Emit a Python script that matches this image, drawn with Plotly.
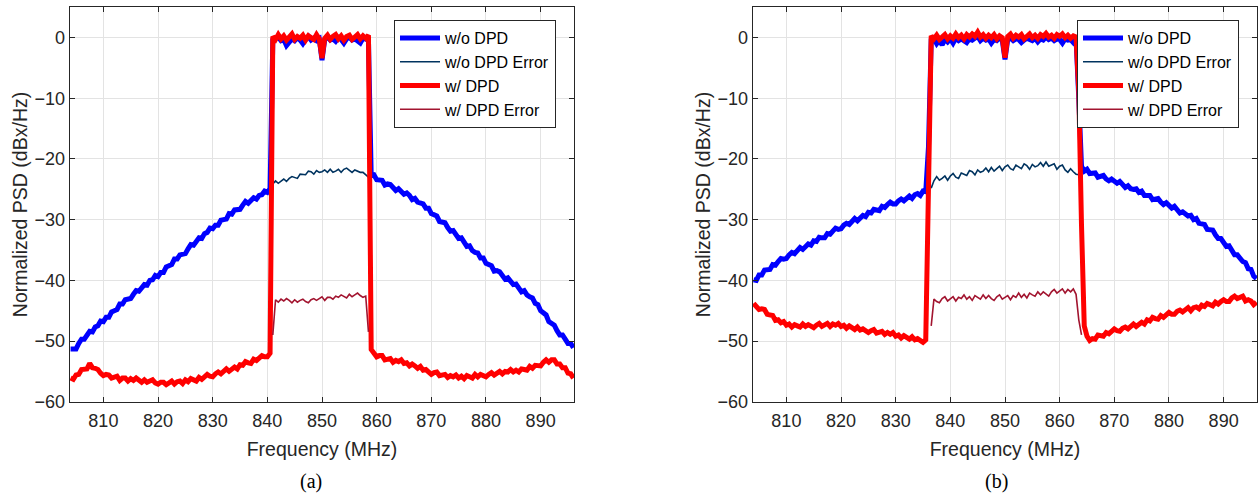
import plotly.graph_objects as go

# ---------------- data ----------------
STEP = 0.5  # MHz spacing of the PSD samples
F_START = 804.0

# ---- panel (a) ----
A_BLUE_LEFT = [-51.3, -51.4, -51.3, -50.4, -49.7, -49.7, -49.0, -48.4, -48.5, -47.7,
               -47.5, -46.7, -46.8, -46.1, -46.1, -45.2, -45.0, -44.8, -43.9, -43.9,
               -43.2, -43.2, -43.0, -42.3, -41.7, -41.8, -41.2, -40.7, -40.8, -40.0,
               -39.9, -39.2, -39.4, -38.7, -38.7, -37.8, -37.6, -37.4, -36.5, -36.5,
               -35.8, -35.8, -35.6, -34.8, -34.1, -34.2, -33.6, -33.0, -33.1, -32.3,
               -32.1, -31.4, -31.5, -30.9, -30.9, -30.1, -30.0, -29.9, -29.0, -29.1,
               -28.4, -28.4, -28.3, -27.6, -27.0, -27.3, -26.8, -26.4, -26.6, -26.0,
               -25.9, -25.3, -25.5, -24.9]
A_BLUE_BAND = [-0.4, -0.2, 0.1, -0.5, -0.3, -1.3, -0.6, -0.2, -0.5, 0.0,
               -0.4, -1.0, -0.3, 0.2, -0.4, -0.1, -0.5, -0.2, -3.7, -0.3,
               0.1, -0.4, -0.2, -0.6, 0.0, -0.3, -0.9, -0.2, 0.1, -0.4,
               -0.2, -0.5, -0.9, -0.1, -0.3, -0.4]
A_BLUE_RIGHT = [-22.7, -22.6, -23.4, -23.5, -23.5, -24.3, -24.1, -24.2, -24.8, -25.2,
                -24.9, -25.4, -25.8, -25.6, -26.0, -26.7, -26.5, -27.1, -27.3, -27.4,
                -28.1, -28.1, -29.0, -29.2, -29.4, -30.3, -30.3, -30.5, -31.3, -31.9,
                -31.8, -32.5, -33.1, -33.0, -33.6, -34.4, -34.3, -35.1, -35.4, -35.5,
                -36.3, -36.3, -37.2, -37.4, -37.6, -38.5, -38.4, -38.6, -39.3, -39.8,
                -39.6, -40.2, -40.7, -40.6, -41.1, -41.9, -41.7, -42.4, -42.7, -42.9,
                -43.8, -44.0, -45.0, -45.4, -45.7, -46.8, -47.0, -47.4, -48.3, -49.0,
                -49.0, -49.7, -50.4, -50.4, -51.1]

A_RED_LEFT = [-56.1, -56.3, -55.6, -55.5, -54.7, -54.7, -54.6, -53.7, -54.4, -54.5,
              -54.7, -55.3, -55.7, -55.5, -55.6, -56.1, -56.0, -55.8, -56.5, -56.1,
              -56.1, -56.6, -56.2, -56.5, -56.1, -56.5, -56.8, -56.4, -56.8, -56.6,
              -56.4, -56.9, -57.1, -56.8, -56.8, -57.2, -56.9, -56.6, -57.1, -56.7,
              -56.6, -57.0, -56.4, -56.7, -56.2, -56.4, -56.6, -56.0, -56.3, -55.9,
              -55.5, -55.8, -55.9, -55.4, -55.1, -55.4, -55.0, -54.6, -55.0, -54.5,
              -54.3, -54.6, -53.9, -54.0, -53.4, -53.6, -53.7, -53.0, -53.2, -52.8,
              -52.4, -52.6, -52.6, -52.0]
A_RED_BAND = [0.2, -0.3, 0.5, -0.2, 0.3, -0.4, 0.1, 0.6, -0.3, 0.2,
              -0.1, 0.4, -0.4, 0.3, 0.0, -0.3, 0.5, -0.2, -3.4, -0.1,
              0.4, -0.3, 0.2, 0.5, -0.2, 0.3, -0.4, 0.2, 0.4, -0.3,
              0.1, 0.5, -0.2, 0.3, -0.1, 0.4]
A_RED_RIGHT = [-51.4, -52.2, -52.6, -52.4, -52.4, -53.1, -53.0, -52.9, -53.5, -53.2,
               -53.4, -53.1, -53.7, -53.6, -54.1, -53.8, -54.1, -54.5, -54.2, -54.8,
               -54.7, -55.2, -55.5, -55.2, -55.1, -55.7, -55.6, -55.5, -56.0, -55.7,
               -55.9, -55.6, -56.1, -55.8, -56.2, -55.7, -55.9, -56.1, -55.5, -55.9,
               -55.5, -55.8, -55.9, -55.5, -55.2, -55.6, -55.3, -55.0, -55.4, -55.0,
               -55.1, -54.7, -55.1, -54.8, -55.1, -54.6, -54.7, -54.8, -54.2, -54.5,
               -54.0, -54.1, -54.1, -53.5, -53.1, -53.5, -53.1, -53.1, -53.8, -53.8,
               -54.4, -54.4, -55.3, -55.4, -56.1]

A_ERR_START = 841.0
A_NAVY_ERR = [-24.1, -23.6, -24.0, -23.7, -23.3, -23.7, -23.2, -22.9, -23.1, -23.2,
              -22.5, -22.6, -22.6, -22.0, -22.1, -22.5, -21.9, -22.2, -22.1, -21.8,
              -22.2, -21.7, -22.2, -22.0, -21.7, -22.2, -21.7, -21.5, -21.9, -22.2,
              -21.8, -22.0, -22.2, -22.2, -22.6, -23.0]
A_MAROON_ERR = [-49.0, -43.2, -43.6, -43.1, -43.4, -43.0, -43.3, -43.7, -43.2, -43.6,
                -43.3, -43.1, -43.5, -43.7, -43.2, -43.0, -43.3, -43.0, -42.7, -43.3,
                -42.8, -42.8, -43.1, -42.6, -42.8, -42.4, -42.6, -42.9, -42.3, -42.7,
                -42.4, -42.1, -42.5, -42.8, -42.6, -48.5]

# ---- panel (b) ----
B_BLUE_LEFT = [-39.9, -40.0, -39.1, -39.1, -38.3, -38.3, -38.2, -37.4, -37.5, -36.9,
               -36.4, -36.5, -36.4, -35.8, -35.4, -35.6, -35.1, -34.6, -34.9, -34.3,
               -34.0, -34.2, -33.5, -33.6, -32.9, -33.0, -33.0, -32.3, -32.4, -31.9,
               -31.4, -31.6, -31.5, -30.9, -30.6, -30.8, -30.3, -29.8, -30.2, -29.6,
               -29.3, -29.5, -28.8, -28.9, -28.3, -28.4, -28.5, -27.8, -28.0, -27.5,
               -27.1, -27.4, -27.4, -26.9, -26.6, -26.9, -26.5, -26.1, -26.5, -25.9,
               -25.7, -26.0, -25.3, -25.4, -18.0]
B_BLUE_BAND = [-0.4, -0.2, -1.0, -0.4, -1.2, -0.3, -0.7, -0.2, -0.9, -0.1,
               -0.5, -0.2, -0.4, -0.8, -0.2, -0.4, -0.1, 0.2, -0.5, -0.1,
               -0.4, -0.2, -0.9, -0.3, -0.5, -0.1, -0.4, -3.6, -0.3, -0.1,
               -0.5, -0.2, -0.3, -0.8, -0.4, -0.1, -0.3, -0.5, -0.1, -0.7,
               -0.2, -0.4, 0.1, -0.3, -0.1, -0.5, -0.2, -0.3, -0.9, -0.2,
               -0.4, -0.3, -0.8, -0.2]
B_BLUE_RIGHT = [-10.0, -21.2, -22.0, -21.7, -22.4, -22.3, -22.3, -23.0, -22.8, -22.7,
                -23.3, -23.6, -23.3, -23.6, -24.0, -23.7, -24.1, -24.7, -24.4, -24.9,
                -25.0, -24.9, -25.5, -25.3, -26.0, -26.0, -26.0, -26.7, -26.5, -26.5,
                -27.1, -27.5, -27.2, -27.6, -28.1, -27.8, -28.3, -28.9, -28.7, -29.2,
                -29.4, -29.3, -30.0, -29.8, -30.6, -30.7, -30.8, -31.6, -31.6, -31.7,
                -32.5, -33.1, -33.1, -33.7, -34.4, -34.3, -35.0, -35.8, -35.8, -36.5,
                -36.9, -37.1, -38.1, -38.2, -39.3, -39.7]

B_RED_LEFT = [-43.8, -44.4, -44.8, -44.7, -44.8, -45.6, -45.7, -45.8, -46.6, -46.5,
              -47.0, -46.8, -47.4, -47.2, -47.7, -47.3, -47.5, -47.7, -47.2, -47.6,
              -47.3, -47.6, -47.8, -47.4, -47.1, -47.6, -47.3, -47.1, -47.6, -47.2,
              -47.4, -47.1, -47.6, -47.4, -47.9, -47.5, -47.8, -48.1, -47.7, -48.2,
              -48.0, -48.4, -48.6, -48.3, -48.1, -48.7, -48.5, -48.4, -48.9, -48.6,
              -48.9, -48.6, -49.2, -49.0, -49.5, -49.1, -49.4, -49.7, -49.3, -49.8,
              -49.6, -50.0, -50.2, -49.8, -24.0]
B_RED_BAND = [0.3, -0.2, 0.4, -0.3, 0.2, 0.5, -0.2, 0.3, -0.1, 0.6,
              0.0, 0.4, -0.2, 0.5, 0.1, 0.6, 0.2, 0.9, 0.1, 0.5,
              -0.1, 0.4, 0.0, 0.5, -0.2, 0.3, 0.0, -3.3, 0.2, 0.6,
              -0.1, 0.4, 0.1, 0.5, -0.2, 0.3, 0.6, 0.0, 0.4, -0.1,
              0.5, 0.2, 0.7, 0.1, 0.4, -0.1, 0.5, 0.2, 0.6, 0.0,
              0.4, -0.1, 0.3, 0.1]
B_RED_RIGHT = [-9.0, -31.0, -47.5, -49.2, -49.9, -49.6, -49.7, -49.0, -49.1, -49.2,
               -48.6, -48.8, -48.4, -48.0, -48.3, -48.4, -47.9, -47.7, -48.0, -47.6,
               -47.2, -47.6, -47.1, -46.9, -47.2, -46.5, -46.7, -46.1, -46.3, -46.4,
               -45.8, -46.1, -45.7, -45.3, -45.6, -45.6, -45.1, -44.9, -45.2, -44.9,
               -44.5, -45.0, -44.5, -44.4, -44.7, -44.1, -44.3, -43.8, -44.0, -44.2,
               -43.6, -43.9, -43.5, -43.2, -43.5, -43.5, -42.9, -42.6, -43.0, -42.7,
               -42.6, -43.4, -43.2, -43.4, -44.0, -43.6]

B_ERR_START = 836.5
B_NAVY_ERR = [-24.8, -23.6, -22.9, -23.5, -23.2, -22.8, -23.5, -22.8, -22.4, -23.0,
              -23.2, -22.3, -22.5, -22.7, -21.9, -22.1, -22.6, -21.8, -22.2, -22.0,
              -21.5, -22.1, -21.4, -22.0, -21.6, -21.2, -21.9, -21.3, -21.0, -21.6,
              -21.8, -21.0, -21.3, -21.6, -20.8, -21.1, -21.7, -20.9, -21.3, -21.1,
              -20.6, -21.2, -20.5, -21.2, -21.0, -20.8, -21.7, -21.2, -21.0, -21.8,
              -22.2, -21.6, -22.1, -22.5, -22.6]
B_MAROON_ERR = [-47.5, -43.1, -43.5, -43.7, -43.0, -42.7, -43.4, -43.0, -42.7, -43.4,
                -42.8, -43.0, -42.4, -43.1, -42.7, -43.3, -42.5, -42.8, -43.1, -42.4,
                -43.0, -42.5, -43.0, -43.3, -42.7, -42.4, -43.1, -42.8, -42.5, -43.2,
                -42.5, -42.8, -42.1, -42.8, -42.3, -42.9, -42.1, -42.4, -42.6, -41.9,
                -42.4, -41.9, -42.3, -42.6, -41.9, -41.5, -42.1, -41.8, -41.4, -42.1,
                -41.5, -41.9, -41.4, -42.3, -46.5, -49.0]

X_TICKS = [810, 820, 830, 840, 850, 860, 870, 880, 890]
Y_TICKS = [-60, -50, -40, -30, -20, -10, 0]
X_RANGE = [803.84, 896.16]
Y_RANGE = [-60, 5]
NAMES = ["w/o DPD", "w/o DPD Error", "w/ DPD", "w/ DPD Error"]
CAPTIONS = ["(a)", "(b)"]


def grid(start, n):
    return [start + STEP * i for i in range(n)]


# ---------------- styles ----------------
BLUE = "#0000ff"
NAVY = "#00335f"
RED = "#ff0000"
MAROON = "#a2142f"
AX = "#262626"
GRID = "#e3e3e3"
SANS = "Liberation Sans, Arial, Helvetica, sans-serif"
SERIF = "Liberation Serif, Times New Roman, serif"

fig = go.Figure()

panels = [
    dict(blue=A_BLUE_LEFT + A_BLUE_BAND + A_BLUE_RIGHT,
         red=A_RED_LEFT + A_RED_BAND + A_RED_RIGHT,
         navy=A_NAVY_ERR, maroon=A_MAROON_ERR, err_start=A_ERR_START,
         xaxis="x", yaxis="y", legend="legend"),
    dict(blue=B_BLUE_LEFT + B_BLUE_BAND + B_BLUE_RIGHT,
         red=B_RED_LEFT + B_RED_BAND + B_RED_RIGHT,
         navy=B_NAVY_ERR, maroon=B_MAROON_ERR, err_start=B_ERR_START,
         xaxis="x2", yaxis="y2", legend="legend2"),
]

for p in panels:
    common = dict(xaxis=p["xaxis"], yaxis=p["yaxis"], legend=p["legend"], mode="lines",
                  hoverinfo="skip")
    fig.add_trace(go.Scatter(x=grid(F_START, len(p["blue"])), y=p["blue"], name=NAMES[0],
                             line=dict(color=BLUE, width=5), **common))
    fig.add_trace(go.Scatter(x=grid(p["err_start"], len(p["navy"])), y=p["navy"], name=NAMES[1],
                             line=dict(color=NAVY, width=1.6), **common))
    fig.add_trace(go.Scatter(x=grid(F_START, len(p["red"])), y=p["red"], name=NAMES[2],
                             line=dict(color=RED, width=5), **common))
    fig.add_trace(go.Scatter(x=grid(p["err_start"], len(p["maroon"])), y=p["maroon"], name=NAMES[3],
                             line=dict(color=MAROON, width=1.6), **common))

H = 493.0
W = 1260.0
y_dom = [1 - 401.7 / H, 1 - 7.3 / H]
x_doms = [[69.7 / W, 574.3 / W], [752.7 / W, 1257.3 / W]]

xcommon = dict(range=X_RANGE, tickvals=X_TICKS, showgrid=True, gridcolor=GRID, gridwidth=1,
               showline=True, linecolor=AX, linewidth=1, mirror="ticks", ticks="inside",
               ticklen=5, tickcolor=AX, tickfont=dict(family=SANS, size=18, color=AX),
               zeroline=False, automargin=False, ticklabelstandoff=3,
               title=dict(text="Frequency (MHz)", font=dict(family=SANS, size=19.5, color=AX),
                          standoff=12))
ycommon = dict(range=Y_RANGE, tickvals=Y_TICKS, showgrid=True, gridcolor=GRID, gridwidth=1,
               showline=True, linecolor=AX, linewidth=1, mirror="ticks", ticks="inside",
               ticklen=5, tickcolor=AX, tickfont=dict(family=SANS, size=18, color=AX),
               zeroline=False, automargin=False,
               title=dict(text="Normalized PSD (dBx/Hz)", font=dict(family=SANS, size=19.5, color=AX),
                          standoff=1))

legcommon = dict(bgcolor="white", bordercolor=AX, borderwidth=1,
                 font=dict(family=SANS, size=16, color="#000000"),
                 xanchor="left", yanchor="top", tracegroupgap=0, itemwidth=40)

fig.update_layout(
    width=1260, height=493, autosize=False,
    margin=dict(l=0, r=0, t=0, b=0),
    paper_bgcolor="white", plot_bgcolor="white",
    xaxis=dict(domain=x_doms[0], anchor="y", **xcommon),
    yaxis=dict(domain=y_dom, anchor="x", **ycommon),
    xaxis2=dict(domain=x_doms[1], anchor="y2", **xcommon),
    yaxis2=dict(domain=y_dom, anchor="x2", **ycommon),
    legend=dict(x=394 / W, y=1 - 20 / H, **legcommon),
    legend2=dict(x=1077 / W, y=1 - 20 / H, **legcommon),
    showlegend=True,
)

cap_x = [311 / W, 996 / W]
for cx, txt in zip(cap_x, CAPTIONS):
    fig.add_annotation(x=cx, y=1 - 481.5 / H, xref="paper", yref="paper", text=txt,
                       showarrow=False, font=dict(family=SERIF, size=20, color="#000000"),
                       xanchor="center", yanchor="middle")

fig.write_html("out.html", config={"displayModeBar": False},
               post_script="document.body.style.margin='0px';")
